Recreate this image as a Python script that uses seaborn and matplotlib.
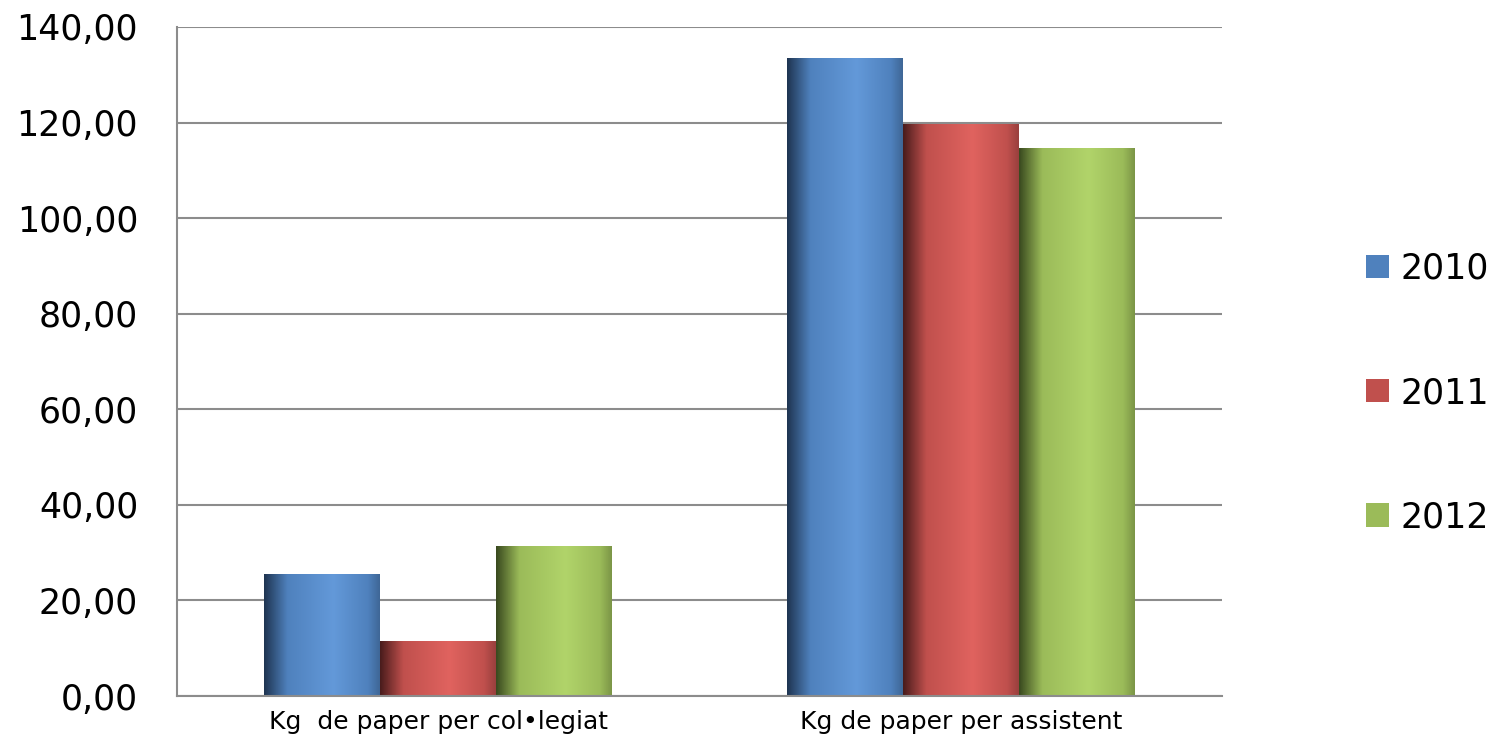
import numpy as np
import pandas as pd
import seaborn as sns
import matplotlib.pyplot as plt
import matplotlib.colors as mcolors
from matplotlib.patches import Patch
from matplotlib.ticker import FuncFormatter

categories = ["Kg  de paper per col•legiat", "Kg de paper per assistent"]
years = ["2010", "2011", "2012"]
values_2010 = [25.5, 133.5]
values_2011 = [11.5, 119.7]
values_2012 = [31.4, 114.7]
colors = ["#4F81BD", "#C0504D", "#9BBB59"]
light = ["#6399D9", "#E0635F", "#B1D46A"]
dark = ["#1F3552", "#4A1C1C", "#3A4A1F"]

df = pd.DataFrame({
    "cat": categories * 3,
    "year": [y for y in years for _ in categories],
    "val": values_2010 + values_2011 + values_2012,
})

sns.set_theme(style="white")
plt.rcParams["font.family"] = ["DejaVu Sans"]
fig = plt.figure(figsize=(15.04, 7.43), dpi=100)
ax = fig.add_axes([177/1504, 1-696/743, (1222-177)/1504, (696-27)/743])

sns.barplot(data=df, x="cat", y="val", hue="year", palette=colors,
            width=0.666, ax=ax, legend=False, saturation=1)

ax.set_ylim(0, 140)
ax.set_yticks(np.arange(0, 141, 20))
ax.yaxis.set_major_formatter(FuncFormatter(lambda v, p: f"{v:.2f}".replace(".", ",")))
ax.yaxis.grid(True, color="#8C8C8C", linewidth=1.5)
ax.set_axisbelow(True)
for s in ["top", "right"]:
    ax.spines[s].set_visible(False)
for s in ["left", "bottom"]:
    ax.spines[s].set_color("#8C8C8C")
    ax.spines[s].set_linewidth(1.5)
ax.tick_params(axis="y", labelsize=25, length=0, pad=28, colors="black")
ax.tick_params(axis="x", labelsize=18, length=0, pad=10, colors="black")
ax.set_xlabel("")
ax.set_ylabel("")

# gradient shading over bars
xs = np.linspace(0, 1, 200)
def grad_cmap(i):
    return mcolors.LinearSegmentedColormap.from_list(
        f"g{i}", [(0, dark[i]), (0.2, colors[i]), (0.6, light[i]), (0.9, colors[i]),
                  (1.0, mcolors.to_hex(np.array(mcolors.to_rgb(colors[i])) * 0.8))])
ylim = ax.get_ylim()
xlim = ax.get_xlim()
for j, cont in enumerate(ax.containers):
    for p in cont:
        x0, y0 = p.get_x(), p.get_y()
        w, h = p.get_width(), p.get_height()
        im = ax.imshow(xs[None, :], cmap=grad_cmap(j), aspect="auto",
                       extent=[x0, x0 + w, y0, y0 + h], zorder=p.get_zorder() + 0.1)
        im.set_clip_path(p)
        p.set_edgecolor("none")
ax.set_xlim(xlim)
ax.set_ylim(ylim)

handles = [Patch(facecolor=c, edgecolor="none") for c in colors]
leg = fig.legend(handles, years, loc="center left", bbox_to_anchor=(1366/1504, 1-393/743),
                 frameon=False, fontsize=25, handlelength=0.65, handleheight=0.65,
                 labelspacing=2.6, handletextpad=0.35, borderpad=0, borderaxespad=0)
for t in leg.get_texts():
    t.set_color("black")

fig.savefig("out.png", dpi=100)
